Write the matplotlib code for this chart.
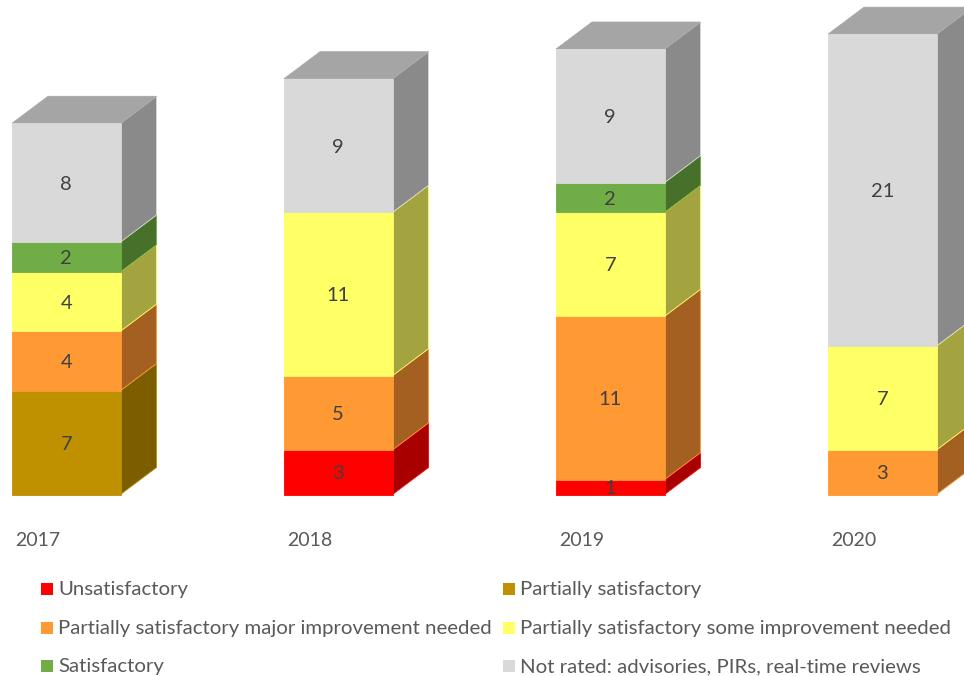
import matplotlib
matplotlib.use("Agg")
import matplotlib.pyplot as plt
from matplotlib.patches import Rectangle

plt.rcParams['font.family'] = ['Lato', 'DejaVu Sans']

years = ['2017', '2018', '2019', '2020']
unsatisfactory = [0, 3, 1, 0]
partially = [7, 0, 0, 0]
partially_major = [4, 5, 11, 3]
partially_some = [4, 11, 7, 7]
satisfactory = [2, 0, 2, 0]
not_rated = [8, 9, 9, 21]

series = [
    ('Unsatisfactory', unsatisfactory, '#ff0000', '#a80000'),
    ('Partially satisfactory', partially, '#bf9000', '#7c5e00'),
    ('Partially satisfactory major improvement needed', partially_major, '#ff9933', '#a46020'),
    ('Partially satisfactory some improvement needed', partially_some, '#ffff66', '#a3a33f'),
    ('Satisfactory', satisfactory, '#70ad47', '#47702b'),
    ('Not rated: advisories, PIRs, real-time reviews', not_rated, '#d9d9d9', '#8a8a8a'),
]
top_colour = '#a5a5a5'

# pixel layout of the original: one year = 272 px, one unit = 14.85 px
W, H = 964, 676
px_x = 272.0
px_y = 14.85
base_px = 494.5
bar_w = 108.5 / px_x
depth_x = 36 / px_x
depth_y = 27 / px_y
first_left = 12 / px_x

fig = plt.figure(figsize=(W / 100, H / 100), dpi=100, facecolor='white')
ax = fig.add_axes([0, 0, 1, 1])
ax.set_xlim(-first_left, (W - 12) / px_x)
ax.set_ylim(-(H - base_px) / px_y, base_px / px_y)
ax.axis('off')

bottoms = [0] * len(years)
for name, values, colour, dark in series:
    for i, v in enumerate(values):
        if v == 0:
            continue
        left = i
        right = i + bar_w
        y0 = bottoms[i]
        y1 = y0 + v
        ax.bar(left, v, bar_w, bottom=y0, align='edge', color=colour,
               edgecolor=colour, linewidth=0.6, zorder=3)
        ax.fill([right, right + depth_x, right + depth_x, right],
                [y0, y0 + depth_y, y1 + depth_y, y1],
                facecolor=dark, edgecolor=colour, linewidth=0.6, zorder=2)
        ax.annotate(str(v), (left + bar_w / 2, (y0 + y1) / 2), xytext=(0, -1.2),
                    textcoords='offset points', ha='center', va='center',
                    fontsize=14.5, color='#404040', zorder=4)
        bottoms[i] = y1

for i, total in enumerate(bottoms):
    ax.fill([i, i + depth_x, i + bar_w + depth_x, i + bar_w],
            [total, total + depth_y, total + depth_y, total],
            facecolor=top_colour, edgecolor=top_colour, linewidth=0.5, zorder=2)

# year labels and legend sit in a plain pixel axes on top
over = fig.add_axes([0, 0, 1, 1])
over.set_xlim(0, W)
over.set_ylim(H, 0)
over.axis('off')

for i, year in enumerate(years):
    over.text(15 + i * px_x, 540.5, year, ha='left', va='center', fontsize=14, color='#595959')

legend_x = [46.5, 508.5]
legend_y = [589, 628, 666]
for k, (name, values, colour, dark) in enumerate(series):
    cx = legend_x[k % 2]
    cy = legend_y[k // 2]
    over.add_patch(Rectangle((cx - 6, cy - 6), 12, 12, facecolor=colour, edgecolor='none'))
    over.text(cx + 12, cy + 0.5, name, ha='left', va='center', fontsize=14.7, color='#595959')

fig.savefig('out.png', dpi=100, facecolor='white')
